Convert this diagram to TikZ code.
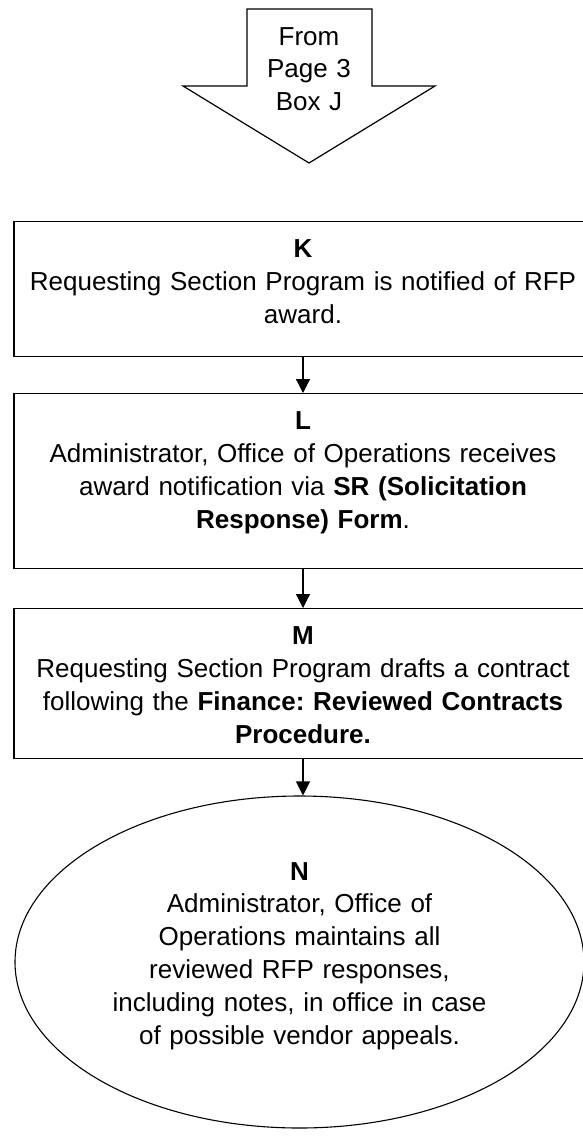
\documentclass[tikz,border=0pt]{standalone}
\usepackage{fontspec}
\setmainfont{Liberation Sans}
\usepackage{tikz}
\usetikzlibrary{shapes.geometric,arrows.meta}
\newcommand{\stepfont}{\fontsize{26}{32.8}\selectfont\frenchspacing}

\begin{document}
\begin{tikzpicture}[x=1pt, y=-1pt, font=\stepfont,
    stepbox/.style={draw, line width=1.2pt, inner xsep=4pt, inner ysep=0pt,
      text width=570pt, align=center, text height=36pt, anchor=north},
    endstep/.style={draw, ellipse, line width=1.1pt, inner sep=0pt,
      minimum width=569pt, minimum height=332pt, text width=400pt, align=center},
    flow/.style={-{Triangle[length=14pt,width=14pt]}, line width=1.2pt}]
  % The page, cut on the right as the boxes run past it.
  \useasboundingbox (0,0) rectangle (583,1136);
  \clip (0,0) rectangle (583,1136);
  % Off-page arrow coming in from the previous page.
  \draw[line width=1.2pt, fill=white]
    (247,9) -- (372,9) -- (372,86) -- (435,86) -- (309,163)
    -- (183,86) -- (247,86) -- cycle;
  \node[anchor=base, align=center, text width=120pt] (from) at (309,45)
    {From\\Page 3\\Box J};
  % The steps K, L and M.
  \node[stepbox, text depth=99pt] (K) at (303,221)
    {\textbf{K}\\Requesting Section Program is notified of RFP\\award.};
  \node[stepbox, text depth=139pt] (L) at (303,393)
    {\textbf{L}\\Administrator, Office of Operations receives\\
     award notification via \textbf{SR (Solicitation}\\\textbf{Response) Form}.};
  \node[stepbox, text depth=114pt] (M) at (303,608)
    {\textbf{M}\\Requesting Section Program drafts a contract\\
     following the \textbf{Finance: Reviewed Contracts}\\\textbf{Procedure.}};
  % The last step, N.
  \node[endstep, text height=20pt, text depth=184pt] (N) at (299.5,962)
    {\textbf{N}\\Administrator, Office of\\Operations maintains all\\
     reviewed RFP responses,\\including notes, in office in case\\
     of possible vendor appeals.};
  \draw[flow] (K) -- (L);
  \draw[flow] (L) -- (M);
  \draw[flow] (M.south) -- (M.south |- N.north);
\end{tikzpicture}
\end{document}
